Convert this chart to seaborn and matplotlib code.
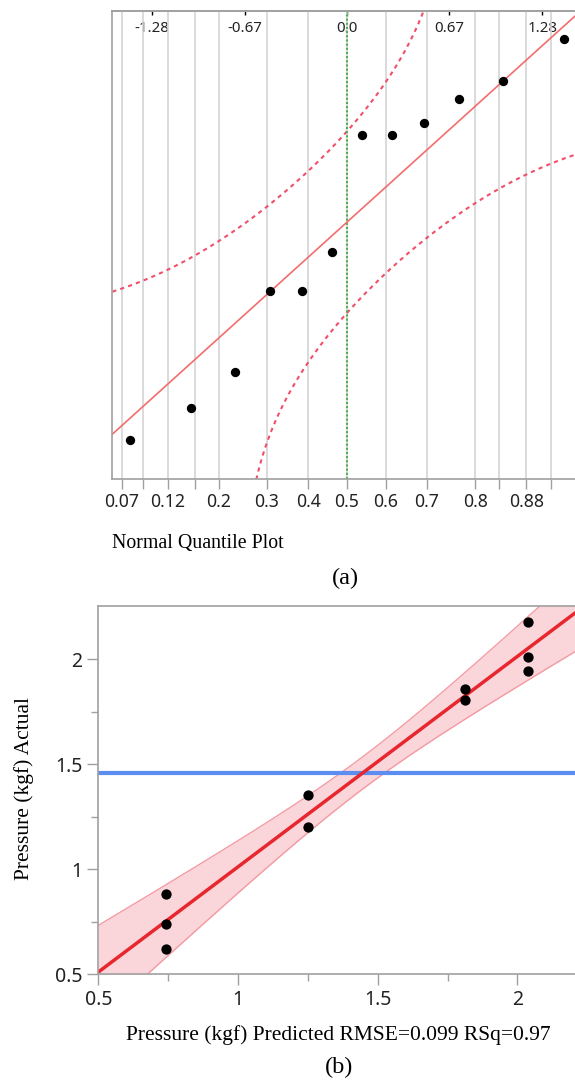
"""
Two-panel figure: (a) normal quantile plot, (b) actual by predicted plot.
"""
from statistics import NormalDist

import matplotlib
matplotlib.use("Agg")
import matplotlib.pyplot as plt
import numpy as np
import pandas as pd
import seaborn as sns

# ---------------------------------------------------------------------------
# Data
# ---------------------------------------------------------------------------

# (a) sorted sample values (no y scale shown, arbitrary units)
quantile_values = [0.39, 0.71, 1.07, 1.89, 1.89, 2.28, 3.45, 3.45, 3.57, 3.81, 3.99, 4.41]
prob_ticks = [0.07, 0.12, 0.2, 0.3, 0.4, 0.5, 0.6, 0.7, 0.8, 0.88]
prob_labels = ["0.07", "0.12", "0.2", "0.3", "0.4", "0.5", "0.6", "0.7", "0.8", "0.88"]
prob_minor = [0.09, 0.16, 0.84, 0.91]
z_ticks = [-1.28, -0.67, 0.0, 0.67, 1.28]
z_labels = ["-1.28", "-0.67", "0.0", "0.67", "1.28"]
lilliefors_d = 0.245

# (b) actual vs predicted pressure
predicted = [0.743, 0.743, 0.743, 1.249, 1.249, 1.814, 1.814, 2.037, 2.037, 2.037]
actual = [0.619, 0.739, 0.882, 1.203, 1.354, 1.806, 1.857, 1.944, 2.012, 2.176]
rmse = 0.099
rsq = 0.97
model_df, t_crit, f_crit = 3, 2.447, 4.757
b_ticks = [0.5, 1, 1.5, 2]
b_labels = ["0.5", "1", "1.5", "2"]
b_minor = [0.75, 1.25, 1.75]

SERIF = ["Liberation Serif", "DejaVu Serif"]
SANS = ["Noto Sans", "DejaVu Sans"]
GRAY = "#a0a0a0"
TXT = "#222222"

sns.set_theme(style="white")
plt.rcParams["font.family"] = SANS

nd = NormalDist()
fig = plt.figure(figsize=(5.75, 10.81), dpi=100)

# ---------------------------------------------------------------------------
# (a) Normal quantile plot
# ---------------------------------------------------------------------------
ax_a = fig.add_axes([0.1953, 0.5566, 0.8047, 0.4332])

n = len(quantile_values)
qa = pd.DataFrame({
    "z": [nd.inv_cdf((i + 1) / (n + 1)) for i in range(n)],
    "value": sorted(quantile_values),
})
mu = qa["value"].mean()
sd = qa["value"].std()

zlim = (-1.539, 1.495)
zg = np.linspace(zlim[0], zlim[1], 600)
up = [mu + sd * nd.inv_cdf(nd.cdf(z) + lilliefors_d) if nd.cdf(z) + lilliefors_d < 1 else np.nan for z in zg]
lo = [mu + sd * nd.inv_cdf(nd.cdf(z) - lilliefors_d) if nd.cdf(z) - lilliefors_d > 0 else np.nan for z in zg]

ax_a.set_xticks([nd.inv_cdf(p) for p in prob_ticks], labels=prob_labels)
ax_a.set_xticks([nd.inv_cdf(p) for p in prob_minor], minor=True)
ax_a.grid(axis="x", which="both", color="#d4d4d4", linewidth=1.2)
ax_a.set_axisbelow(True)

ax_a.plot(zg, up, color="#f0506a", linewidth=1.5, linestyle=(0, (2, 2)))
ax_a.plot(zg, lo, color="#f0506a", linewidth=1.5, linestyle=(0, (2, 2)))
ax_a.axvline(0, color="#4cb04c", linewidth=1.5, linestyle=(0, (1, 1)))
ax_a.plot(zg, mu + sd * zg, color="#f26d6d", linewidth=1.2)
sns.scatterplot(data=qa, x="z", y="value", ax=ax_a, color="black", s=45,
                linewidth=0, zorder=5)

ax_a.set_xlim(*zlim)
ax_a.set_ylim(0, 4.69)
ax_a.set_yticks([])
ax_a.set_xlabel("")
ax_a.set_ylabel("")
ax_a.tick_params(axis="x", which="both", direction="out", length=7.5, width=1,
                 color=GRAY, labelsize=12.7, labelcolor=TXT, pad=2, bottom=True)
for side in ("left", "bottom", "top"):
    ax_a.spines[side].set_color(GRAY)
    ax_a.spines[side].set_linewidth(1.2)
ax_a.spines["right"].set_visible(False)

top = ax_a.secondary_xaxis("top")
top.set_xticks(z_ticks, labels=z_labels)
top.tick_params(axis="x", direction="in", length=3, width=1, color="black",
                labelsize=10.8, labelcolor=TXT)
top.xaxis.set_tick_params(pad=-18)
top.spines["top"].set_color(GRAY)

fig.text(0.1942, 0.4974, "Normal Quantile Plot", family=SERIF, fontsize=14.3,
         ha="left", va="center", color="black")
fig.text(0.600, 0.4653, "(a)", family=SERIF, fontsize=17.5, ha="center",
         va="center", color="black")

# ---------------------------------------------------------------------------
# (b) Actual by predicted plot
# ---------------------------------------------------------------------------
ax_b = fig.add_axes([0.1710, 0.0987, 0.8290, 0.3410])

pb = pd.DataFrame({"predicted": predicted, "actual": actual})
slope, intercept = np.polyfit(pb["predicted"], pb["actual"], 1)
xbar = pb["predicted"].mean()
sxx = ((pb["predicted"] - xbar) ** 2).sum()
nb = len(pb)

xlim_b = (0.5, 2.206)
xg = np.linspace(*xlim_b, 300)
fit = intercept + slope * xg
hw = np.sqrt(rmse ** 2 * (t_crit ** 2 / nb + model_df * f_crit * (xg - xbar) ** 2 / sxx))

ax_b.fill_between(xg, fit - hw, fit + hw, color="#f9c9cf", alpha=0.75, linewidth=0)
ax_b.plot(xg, fit - hw, color="#f49aa2", linewidth=1)
ax_b.plot(xg, fit + hw, color="#f49aa2", linewidth=1)
ax_b.axhline(pb["actual"].mean(), color="#5b8ef0", linewidth=3)
ax_b.plot(xg, fit, color="#e8262e", linewidth=2.5)
sns.scatterplot(data=pb, x="predicted", y="actual", ax=ax_b, color="black",
                s=55, linewidth=0, zorder=5)

ax_b.set_xlim(*xlim_b)
ax_b.set_ylim(0.5, 2.255)
ax_b.set_xticks(b_ticks, labels=b_labels)
ax_b.set_xticks(b_minor, minor=True)
ax_b.set_yticks(b_ticks, labels=b_labels)
ax_b.set_yticks(b_minor, minor=True)
ax_b.set_xlabel("")
ax_b.set_ylabel("")
ax_b.tick_params(which="major", direction="out", length=8, width=1, color=GRAY,
                 labelsize=14, labelcolor=TXT, pad=3.5, bottom=True, left=True)
ax_b.tick_params(which="minor", direction="out", length=5, width=1, color=GRAY,
                 bottom=True, left=True)
for side in ("left", "bottom", "top"):
    ax_b.spines[side].set_color(GRAY)
    ax_b.spines[side].set_linewidth(1.2)
ax_b.spines["right"].set_visible(False)

fig.text(0.588, 0.0424, f"Pressure (kgf) Predicted RMSE={rmse} RSq={rsq}",
         family=SERIF, fontsize=15.5, ha="center", va="center", color="black")
fig.text(0.0417, 0.271, "Pressure (kgf) Actual", family=SERIF, fontsize=15.5,
         rotation=90, ha="center", va="center", color="black")
fig.text(0.590, 0.0125, "(b)", family=SERIF, fontsize=17.5, ha="center",
         va="center", color="black")

fig.savefig("out.png", dpi=100)
